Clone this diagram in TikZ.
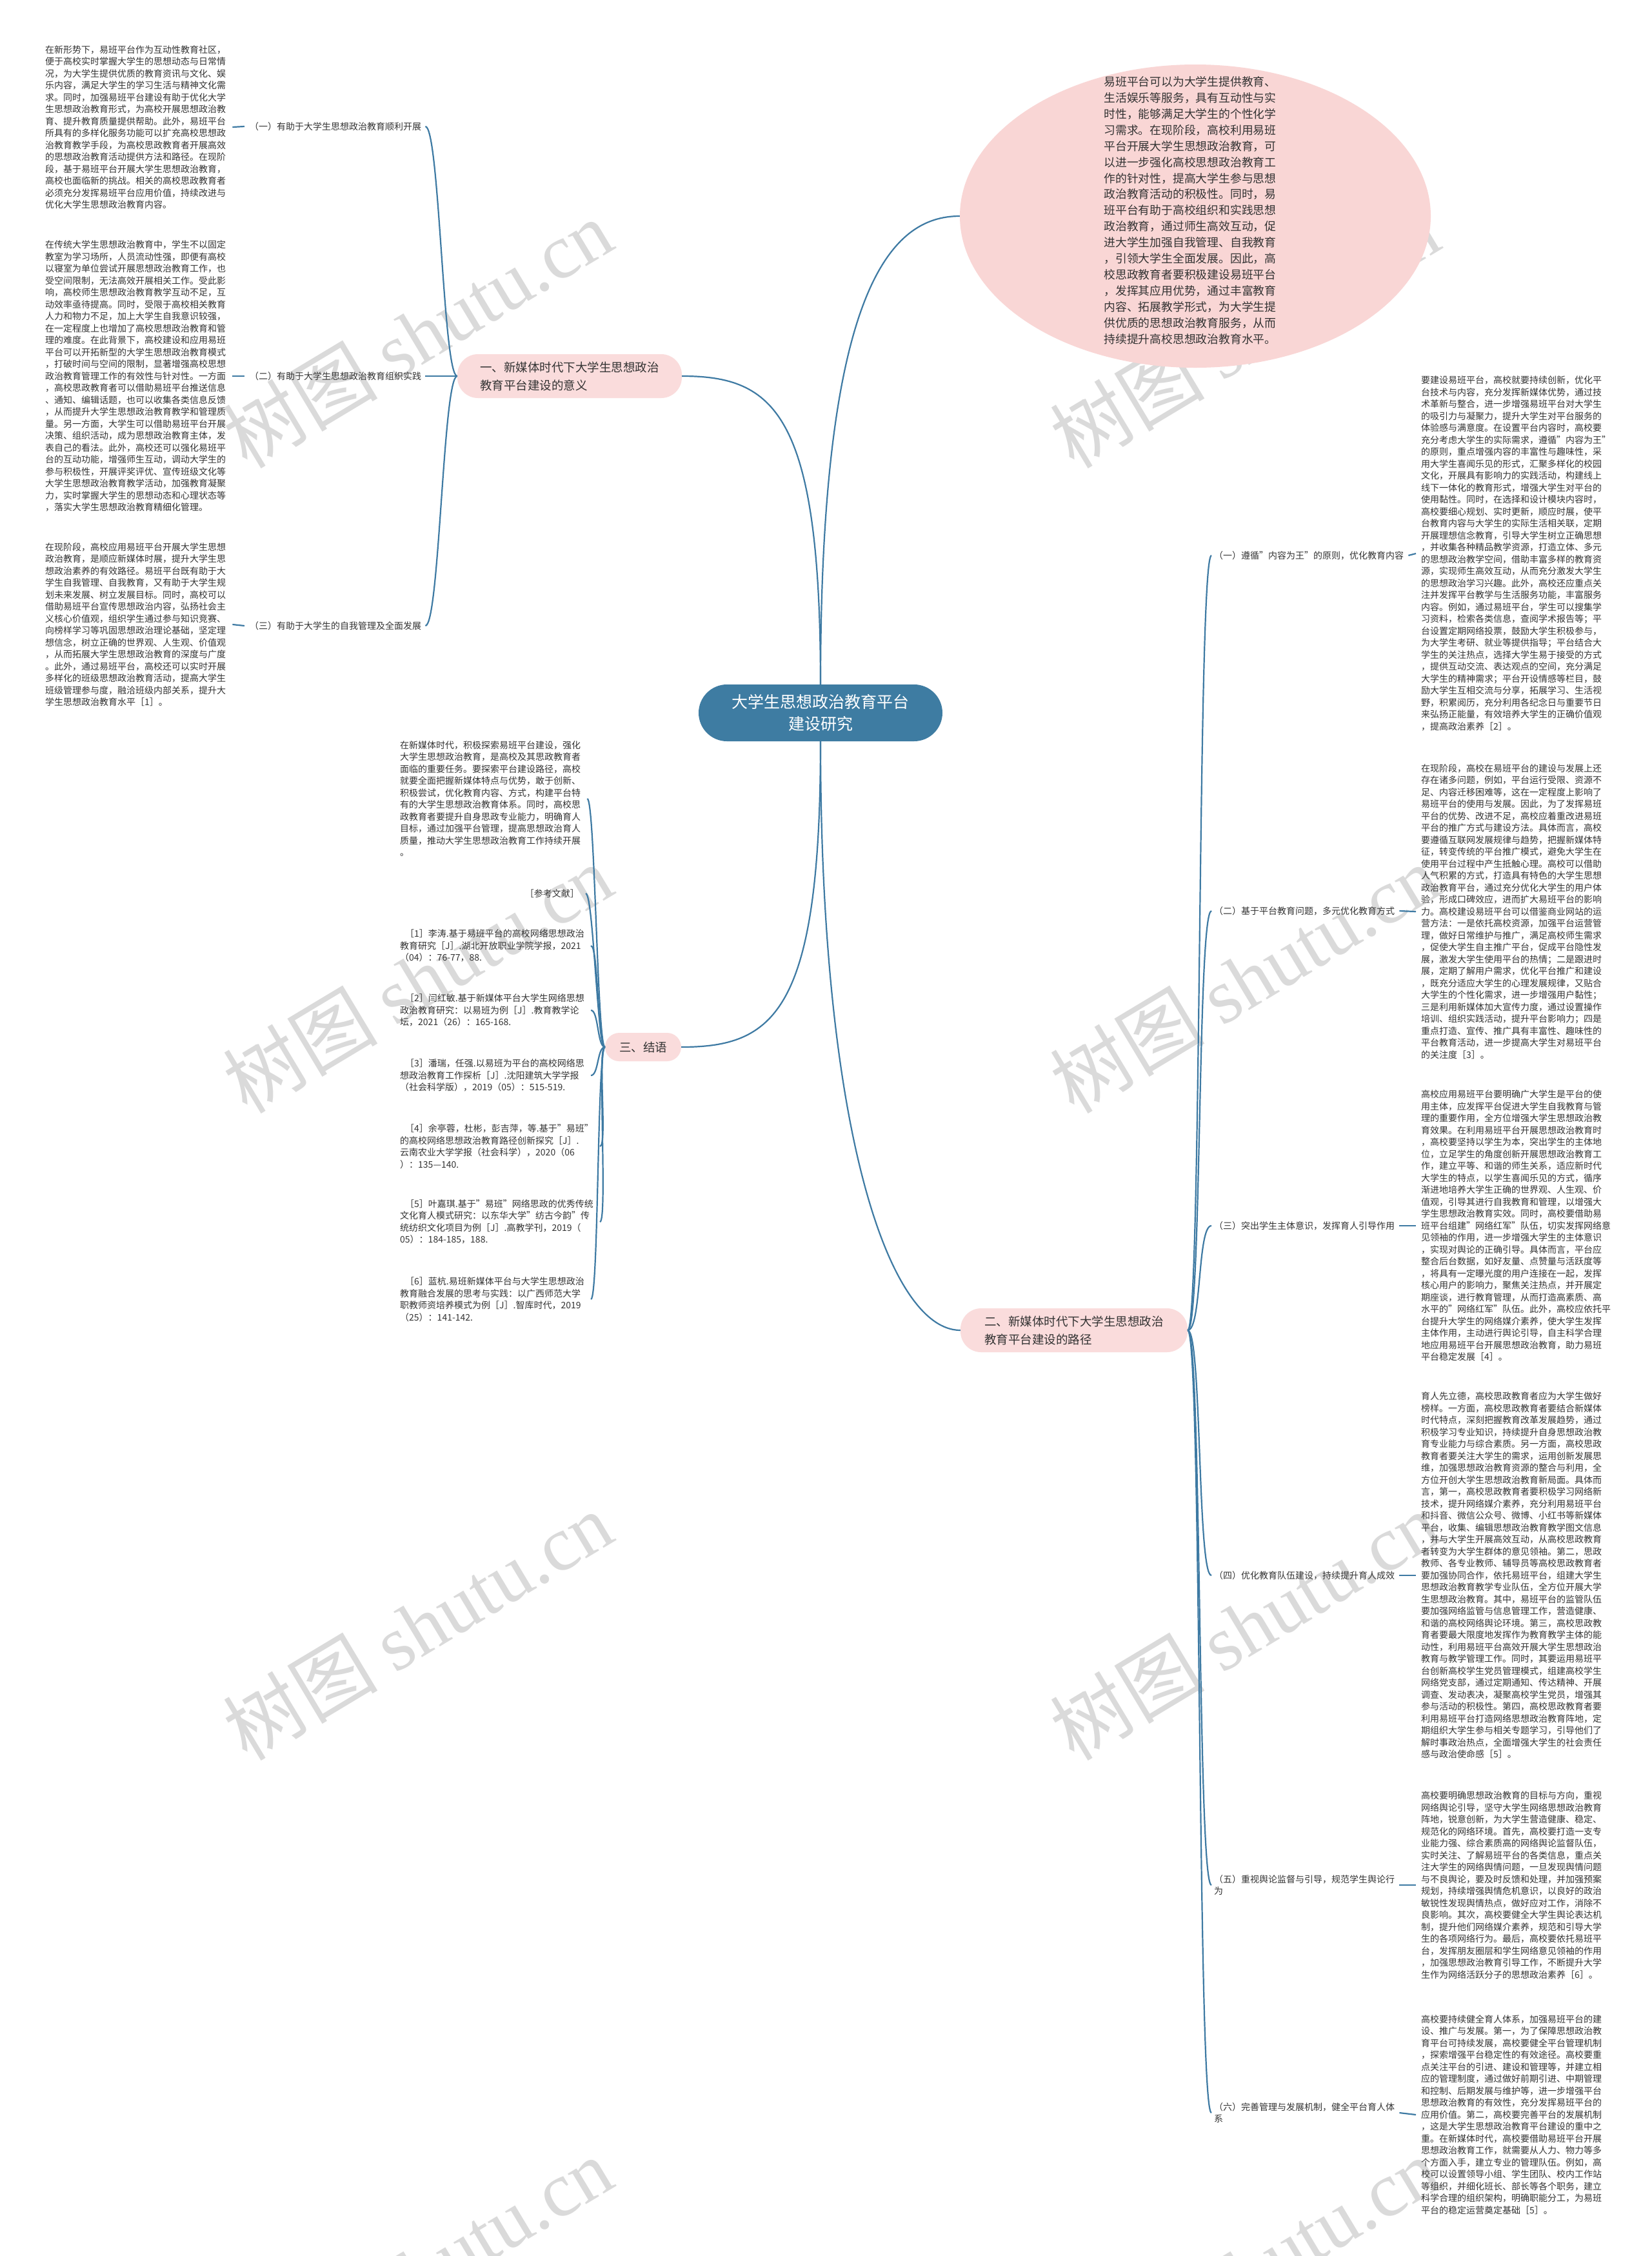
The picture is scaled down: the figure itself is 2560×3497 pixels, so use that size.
\documentclass[tikz,border=0pt]{standalone}
\usepackage{fontspec}
\usetikzlibrary{shapes.geometric}
\setmainfont{Noto Sans CJK SC}
\newfontfamily\wmlatin{Liberation Serif}
\definecolor{lineblue}{HTML}{3E7AA3}
\definecolor{centerblue}{HTML}{3E7CA2}
\definecolor{pinkfill}{HTML}{FADCDC}
\definecolor{ellfill}{HTML}{F9D6D5}
\definecolor{txt}{HTML}{333333}
\definecolor{wmgray}{HTML}{DADADA}
\tikzset{
  conn/.style={draw=lineblue, line width=2.2},
  para/.style={anchor=west, inner sep=0, align=left, text=txt, font=\fontsize{14}{18.5}\selectfont},
  lab/.style={anchor=west, inner sep=0, align=left, text=txt, font=\fontsize{14}{18.5}\selectfont},
  branch/.style={rounded corners=32, fill=pinkfill, text=txt, align=left, font=\fontsize{18.5}{28}\selectfont, inner sep=0},
  centre/.style={rounded corners=44, fill=centerblue, text=white, align=center, font=\fontsize{25}{34}\selectfont, inner sep=0, minimum width=378, minimum height=88},
  wm/.style={text=wmgray, font=\fontsize{120}{120}\selectfont, rotate=31, inner sep=0},
}
\begin{document}
\begin{tikzpicture}[x=1pt,y=-1pt]
\useasboundingbox[fill=white] (0,0) rectangle (2560,3497);
% watermarks
\node[wm] (w1) at (647,517) {树图 {\wmlatin shutu.cn}};
\node[wm] (w2) at (1929,517) {树图 {\wmlatin shutu.cn}};
\node[wm] (w3) at (647,1517) {树图 {\wmlatin shutu.cn}};
\node[wm] (w4) at (1929,1517) {树图 {\wmlatin shutu.cn}};
\node[wm] (w5) at (647,2520) {树图 {\wmlatin shutu.cn}};
\node[wm] (w6) at (1929,2520) {树图 {\wmlatin shutu.cn}};
\node[wm] (w7) at (647,3521) {树图 {\wmlatin shutu.cn}};
\node[wm] (w8) at (1929,3521) {树图 {\wmlatin shutu.cn}};

% centre and branches
\node[centre] (c) at (1272,1105) {大学生思想政治教育平台\\建设研究};
\node[branch, minimum width=348, minimum height=68] (b1) at (883,583) {一、新媒体时代下大学生思想政治\\教育平台建设的意义};
\node[branch, minimum width=352, minimum height=68] (b2) at (1665,2062) {二、新媒体时代下大学生思想政治\\教育平台建设的路径};
\node[branch, minimum width=118, minimum height=44, rounded corners=22] (b3) at (997,1623) {三、结语};
\node[ellipse, fill=ellfill, minimum width=730, minimum height=470, inner sep=0] (e) at (1853,335) {};
\node[inner sep=0, align=left, text=txt, font=\fontsize{17.8}{24.9}\selectfont] (et) at (1845,326) {易班平台可以为大学生提供教育、\\生活娱乐等服务，具有互动性与实\\时性，能够满足大学生的个性化学\\习需求。在现阶段，高校利用易班\\平台开展大学生思想政治教育，可\\以进一步强化高校思想政治教育工\\作的针对性，提高大学生参与思想\\政治教育活动的积极性。同时，易\\班平台有助于高校组织和实践思想\\政治教育，通过师生高效互动，促\\进大学生加强自我管理、自我教育\\，引领大学生全面发展。因此，高\\校思政教育者要积极建设易班平台\\，发挥其应用优势，通过丰富教育\\内容、拓展教学形式，为大学生提\\供优质的思想政治教育服务，从而\\持续提升高校思想政治教育水平。};

\draw[conn] (c.north) .. controls (1272,640) and (1200,583) .. (b1.east);
\draw[conn] (c.north) .. controls (1272,450) and (1380,335) .. (e.west);
\draw[conn] (c.south) .. controls (1272,1569) and (1200,1623) .. (b3.east);
\draw[conn] (c.south) .. controls (1272,1760) and (1380,2062) .. (b2.west);

% left branch 1
\node[para] (p1) at (70,197) {在新形势下，易班平台作为互动性教育社区，\\便于高校实时掌握大学生的思想动态与日常情\\况，为大学生提供优质的教育资讯与文化、娱\\乐内容，满足大学生的学习生活与精神文化需\\求。同时，加强易班平台建设有助于优化大学\\生思想政治教育形式，为高校开展思想政治教\\育、提升教育质量提供帮助。此外，易班平台\\所具有的多样化服务功能可以扩充高校思想政\\治教育教学手段，为高校思政教育者开展高效\\的思想政治教育活动提供方法和路径。在现阶\\段，基于易班平台开展大学生思想政治教育，\\高校也面临新的挑战。相关的高校思政教育者\\必须充分发挥易班平台应用价值，持续改进与\\优化大学生思想政治教育内容。};
\node[para] (p2) at (70,583) {在传统大学生思想政治教育中，学生不以固定\\教室为学习场所，人员流动性强，即便有高校\\以寝室为单位尝试开展思想政治教育工作，也\\受空间限制，无法高效开展相关工作。受此影\\响，高校师生思想政治教育教学互动不足，互\\动效率亟待提高。同时，受限于高校相关教育\\人力和物力不足，加上大学生自我意识较强，\\在一定程度上也增加了高校思想政治教育和管\\理的难度。在此背景下，高校建设和应用易班\\平台可以开拓新型的大学生思想政治教育模式\\，打破时间与空间的限制，显著增强高校思想\\政治教育管理工作的有效性与针对性。一方面\\，高校思政教育者可以借助易班平台推送信息\\、通知、编辑话题，也可以收集各类信息反馈\\，从而提升大学生思想政治教育教学和管理质\\量。另一方面，大学生可以借助易班平台开展\\决策、组织活动，成为思想政治教育主体，发\\表自己的看法。此外，高校还可以强化易班平\\台的互动功能，增强师生互动，调动大学生的\\参与积极性，开展评奖评优、宣传班级文化等\\大学生思想政治教育教学活动，加强教育凝聚\\力，实时掌握大学生的思想动态和心理状态等\\，落实大学生思想政治教育精细化管理。};
\node[para] (p3) at (70,968) {在现阶段，高校应用易班平台开展大学生思想\\政治教育，是顺应新媒体时展，提升大学生思\\想政治素养的有效路径。易班平台既有助于大\\学生自我管理、自我教育，又有助于大学生规\\划未来发展、树立发展目标。同时，高校可以\\借助易班平台宣传思想政治内容，弘扬社会主\\义核心价值观，组织学生通过参与知识竞赛、\\向榜样学习等巩固思想政治理论基础，坚定理\\想信念，树立正确的世界观、人生观、价值观\\，从而拓展大学生思想政治教育的深度与广度\\。此外，通过易班平台，高校还可以实时开展\\多样化的班级思想政治教育活动，提高大学生\\班级管理参与度，融洽班级内部关系，提升大\\学生思想政治教育水平［1］。};
\node[lab] (l1) at (387,196) {（一）有助于大学生思想政治教育顺利开展};
\node[lab] (l2) at (387,583) {（二）有助于大学生思想政治教育组织实践};
\node[lab] (l3) at (387,970) {（三）有助于大学生的自我管理及全面发展};
\foreach \i in {1,2,3} {
  \draw[conn] ([xshift=10]p\i.east) -- ([xshift=-8]l\i.west);
  \draw[conn] (b1.west) .. controls +(-22,0) and +(22,0) .. ([xshift=6]l\i.east);
}

% conclusion
\node[para] (q0) at (620,1238) {在新媒体时代，积极探索易班平台建设，强化\\大学生思想政治教育，是高校及其思政教育者\\面临的重要任务。要探索平台建设路径，高校\\就要全面把握新媒体特点与优势，敢于创新、\\积极尝试，优化教育内容、方式，构建平台特\\有的大学生思想政治教育体系。同时，高校思\\政教育者要提升自身思政专业能力，明确育人\\目标，通过加强平台管理，提高思想政治育人\\质量，推动大学生思想政治教育工作持续开展\\。};
\node[para, anchor=east] (q7) at (898,1385) {［参考文献］};
\node[para] (q1) at (620,1466) {\hspace{8pt}［1］李涛.基于易班平台的高校网络思想政治\\教育研究［J］.湖北开放职业学院学报，2021\\（04）：76-77，88.};
\node[para] (q2) at (620,1566) {\hspace{8pt}［2］闫红敏.基于新媒体平台大学生网络思想\\政治教育研究：以易班为例［J］.教育教学论\\坛，2021（26）：165-168.};
\node[para] (q3) at (620,1667) {\hspace{8pt}［3］潘瑞，任强.以易班为平台的高校网络思\\想政治教育工作探析［J］.沈阳建筑大学学报\\（社会科学版），2019（05）：515-519.};
\node[para] (q4) at (620,1777) {\hspace{8pt}［4］余亭蓉，杜彬，彭吉萍，等.基于"易班"\\的高校网络思想政治教育路径创新探究［J］.\\云南农业大学学报（社会科学），2020（06\\）：135—140.};
\node[para] (q5) at (620,1894) {\hspace{8pt}［5］叶嘉琪.基于"易班"网络思政的优秀传统\\文化育人模式研究：以东华大学"纺古今韵"传\\统纺织文化项目为例［J］.高教学刊，2019（\\05）：184-185，188.};
\node[para] (q6) at (620,2014) {\hspace{8pt}［6］蓝杭.易班新媒体平台与大学生思想政治\\教育融合发展的思考与实践：以广西师范大学\\职教师资培养模式为例［J］.智库时代，2019\\（25）：141-142.};
\foreach \i in {0,...,7} {
  \draw[conn] (b3.west) .. controls +(-12,0) and +(12,0) .. ([xshift=10]q\i.east);
}

% right branch 2
\node[lab] (r1) at (1882,861) {（一）遵循"内容为王"的原则，优化教育内容};
\node[lab] (r2) at (1882,1412) {（二）基于平台教育问题，多元优化教育方式};
\node[lab] (r3) at (1882,1900) {（三）突出学生主体意识，发挥育人引导作用};
\node[lab] (r4) at (1882,2442) {（四）优化教育队伍建设，持续提升育人成效};
\node[lab] (r5) at (1882,2922) {（五）重视舆论监督与引导，规范学生舆论行\\为};
\node[lab] (r6) at (1882,3275) {（六）完善管理与发展机制，健全平台育人体\\系};

\node[para] (s1) at (2203,858) {要建设易班平台，高校就要持续创新，优化平\\台技术与内容，充分发挥新媒体优势，通过技\\术革新与整合，进一步增强易班平台对大学生\\的吸引力与凝聚力，提升大学生对平台服务的\\体验感与满意度。在设置平台内容时，高校要\\充分考虑大学生的实际需求，遵循"内容为王"\\的原则，重点增强内容的丰富性与趣味性，采\\用大学生喜闻乐见的形式，汇聚多样化的校园\\文化，开展具有影响力的实践活动，构建线上\\线下一体化的教育形式，增强大学生对平台的\\使用黏性。同时，在选择和设计模块内容时，\\高校要细心规划、实时更新，顺应时展，使平\\台教育内容与大学生的实际生活相关联，定期\\开展理想信念教育，引导大学生树立正确思想\\，并收集各种精品教学资源，打造立体、多元\\的思想政治教学空间，借助丰富多样的教育资\\源，实现师生高效互动，从而充分激发大学生\\的思想政治学习兴趣。此外，高校还应重点关\\注并发挥平台教学与生活服务功能，丰富服务\\内容。例如，通过易班平台，学生可以搜集学\\习资料，检索各类信息，查阅学术报告等；平\\台设置定期网络投票，鼓励大学生积极参与，\\为大学生考研、就业等提供指导；平台结合大\\学生的关注热点，选择大学生易于接受的方式\\，提供互动交流、表达观点的空间，充分满足\\大学生的精神需求；平台开设情感等栏目，鼓\\励大学生互相交流与分享，拓展学习、生活视\\野，积累阅历，充分利用各纪念日与重要节日\\来弘扬正能量，有效培养大学生的正确价值观\\，提高政治素养［2］。};
\node[para] (s2) at (2203,1413) {在现阶段，高校在易班平台的建设与发展上还\\存在诸多问题，例如，平台运行受限、资源不\\足、内容迁移困难等，这在一定程度上影响了\\易班平台的使用与发展。因此，为了发挥易班\\平台的优势、改进不足，高校应着重改进易班\\平台的推广方式与建设方法。具体而言，高校\\要遵循互联网发展规律与趋势，把握新媒体特\\征，转变传统的平台推广模式，避免大学生在\\使用平台过程中产生抵触心理。高校可以借助\\人气积累的方式，打造具有特色的大学生思想\\政治教育平台，通过充分优化大学生的用户体\\验，形成口碑效应，进而扩大易班平台的影响\\力。高校建设易班平台可以借鉴商业网站的运\\营方法：一是依托高校资源，加强平台运营管\\理，做好日常维护与推广，满足高校师生需求\\，促使大学生自主推广平台，促成平台隐性发\\展，激发大学生使用平台的热情；二是跟进时\\展，定期了解用户需求，优化平台推广和建设\\，既充分适应大学生的心理发展规律，又贴合\\大学生的个性化需求，进一步增强用户黏性；\\三是利用新媒体加大宣传力度，通过设置操作\\培训、组织实践活动，提升平台影响力；四是\\重点打造、宣传、推广具有丰富性、趣味性的\\平台教育活动，进一步提高大学生对易班平台\\的关注度［3］。};
\node[para] (s3) at (2203,1900) {高校应用易班平台要明确广大学生是平台的使\\用主体，应发挥平台促进大学生自我教育与管\\理的重要作用，全方位增强大学生思想政治教\\育效果。在利用易班平台开展思想政治教育时\\，高校要坚持以学生为本，突出学生的主体地\\位，立足学生的角度创新开展思想政治教育工\\作，建立平等、和谐的师生关系，适应新时代\\大学生的特点，以学生喜闻乐见的方式，循序\\渐进地培养大学生正确的世界观、人生观、价\\值观，引导其进行自我教育和管理，以增强大\\学生思想政治教育实效。同时，高校要借助易\\班平台组建"网络红军"队伍，切实发挥网络意\\见领袖的作用，进一步增强大学生的主体意识\\，实现对舆论的正确引导。具体而言，平台应\\整合后台数据，如好友量、点赞量与活跃度等\\，将具有一定曝光度的用户连接在一起，发挥\\核心用户的影响力，聚焦关注热点，并开展定\\期座谈，进行教育管理，从而打造高素质、高\\水平的"网络红军"队伍。此外，高校应依托平\\台提升大学生的网络媒介素养，使大学生发挥\\主体作用，主动进行舆论引导，自主科学合理\\地应用易班平台开展思想政治教育，助力易班\\平台稳定发展［4］。};
\node[para] (s4) at (2203,2442) {育人先立德，高校思政教育者应为大学生做好\\榜样。一方面，高校思政教育者要结合新媒体\\时代特点，深刻把握教育改革发展趋势，通过\\积极学习专业知识，持续提升自身思想政治教\\育专业能力与综合素质。另一方面，高校思政\\教育者要关注大学生的需求，运用创新发展思\\维，加强思想政治教育资源的整合与利用，全\\方位开创大学生思想政治教育新局面。具体而\\言，第一，高校思政教育者要积极学习网络新\\技术，提升网络媒介素养，充分利用易班平台\\和抖音、微信公众号、微博、小红书等新媒体\\平台，收集、编辑思想政治教育教学图文信息\\，并与大学生开展高效互动，从高校思政教育\\者转变为大学生群体的意见领袖。第二，思政\\教师、各专业教师、辅导员等高校思政教育者\\要加强协同合作，依托易班平台，组建大学生\\思想政治教育教学专业队伍，全方位开展大学\\生思想政治教育。其中，易班平台的监管队伍\\要加强网络监管与信息管理工作，营造健康、\\和谐的高校网络舆论环境。第三，高校思政教\\育者要最大限度地发挥作为教育教学主体的能\\动性，利用易班平台高效开展大学生思想政治\\教育与教学管理工作。同时，其要运用易班平\\台创新高校学生党员管理模式，组建高校学生\\网络党支部，通过定期通知、传达精神、开展\\调查、发动表决，凝聚高校学生党员，增强其\\参与活动的积极性。第四，高校思政教育者要\\利用易班平台打造网络思想政治教育阵地，定\\期组织大学生参与相关专题学习，引导他们了\\解时事政治热点，全面增强大学生的社会责任\\感与政治使命感［5］。};
\node[para] (s5) at (2203,2922) {高校要明确思想政治教育的目标与方向，重视\\网络舆论引导，坚守大学生网络思想政治教育\\阵地，锐意创新，为大学生营造健康、稳定、\\规范化的网络环境。首先，高校要打造一支专\\业能力强、综合素质高的网络舆论监督队伍，\\实时关注、了解易班平台的各类信息，重点关\\注大学生的网络舆情问题，一旦发现舆情问题\\与不良舆论，要及时反馈和处理，并加强预案\\规划，持续增强舆情危机意识，以良好的政治\\敏锐性发现舆情热点，做好应对工作，消除不\\良影响。其次，高校要健全大学生舆论表达机\\制，提升他们网络媒介素养，规范和引导大学\\生的各项网络行为。最后，高校要依托易班平\\台，发挥朋友圈层和学生网络意见领袖的作用\\，加强思想政治教育引导工作，不断提升大学\\生作为网络活跃分子的思想政治素养［6］。};
\node[para] (s6) at (2203,3278) {高校要持续健全育人体系，加强易班平台的建\\设、推广与发展。第一，为了保障思想政治教\\育平台可持续发展，高校要健全平台管理机制\\，探索增强平台稳定性的有效途径。高校要重\\点关注平台的引进、建设和管理等，并建立相\\应的管理制度，通过做好前期引进、中期管理\\和控制、后期发展与维护等，进一步增强平台\\思想政治教育的有效性，充分发挥易班平台的\\应用价值。第二，高校要完善平台的发展机制\\，这是大学生思想政治教育平台建设的重中之\\重。在新媒体时代，高校要借助易班平台开展\\思想政治教育工作，就需要从人力、物力等多\\个方面入手，建立专业的管理队伍。例如，高\\校可以设置领导小组、学生团队、校内工作站\\等组织，并细化班长、部长等各个职务，建立\\科学合理的组织架构，明确职能分工，为易班\\平台的稳定运营奠定基础［5］。};
\foreach \i in {1,...,6} {
  \draw[conn] (b2.east) .. controls +(22,0) and +(-22,0) .. ([xshift=-4]r\i.west);
  \draw[conn] ([xshift=7]r\i.east) -- ([xshift=-8]s\i.west);
}
\end{tikzpicture}
\end{document}
